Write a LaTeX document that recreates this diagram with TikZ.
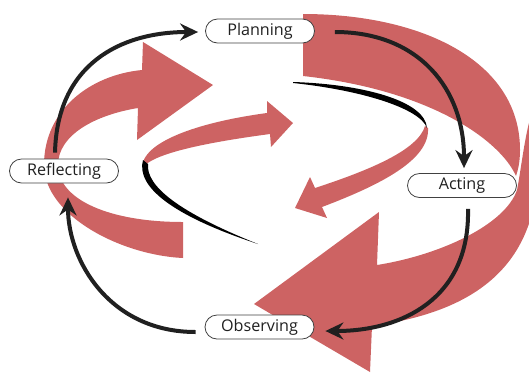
\documentclass[tikz,border=0pt]{standalone}
\usepackage{fontspec}
\setmainfont{Open Sans}
\usetikzlibrary{arrows.meta}
\definecolor{rib}{RGB}{205,99,99}
\definecolor{ink}{RGB}{32,32,32}
\begin{document}
\begin{tikzpicture}[x=1bp,y=-1bp,
  stage/.style={draw=ink!85, line width=0.8bp, fill=white, rounded corners=12bp,
    minimum width=109bp, minimum height=24bp, inner sep=0pt,
    font=\fontsize{16.2}{19}\selectfont, text=ink},
  flow/.style={draw=ink, line width=4bp, -{Stealth[length=18bp,width=17bp,inset=6bp]}},
  ribbon/.style={fill=rib, draw=none},
  shadow/.style={fill=black, draw=none}]
\useasboundingbox (0,0) rectangle (529,373);
\begin{scope}
\clip (0,0) rectangle (529,373);
% outer band, upper part
\fill[ribbon] (303,14) .. controls (420,14) and (520,60) .. (520,150)
  .. controls (520,162) and (518,170) .. (516,176)
  .. controls (500,140) and (430,90) .. (303,76) -- cycle;
% outer band, lower part with head
\fill[ribbon] (531,115) .. controls (524,140) and (521,170) .. (517,190)
  .. controls (505,225) and (440,255) .. (377,265) -- (379,212) -- (254,304)
  -- (370,372) -- (372,326) .. controls (450,315) and (520,285) .. (535,200)
  -- (560,200) -- (560,110) -- cycle;
% left band with head
\fill[ribbon] (183,222) -- (183,258) .. controls (120,255) and (44,215) .. (44,165)
  .. controls (44,110) and (90,75) .. (142,70) -- (143,42) -- (213,85) -- (137,140)
  -- (138,108) .. controls (95,115) and (58,135) .. (58,165)
  .. controls (58,200) and (110,222) .. (183,222) -- cycle;
% middle upper arrow
\fill[ribbon] (143,162) .. controls (150,140) and (200,122) .. (267,113) -- (267,101)
  -- (293,123) -- (271,147) -- (270,134) .. controls (210,142) and (160,152) .. (145,165) -- cycle;
% middle lower arrow
\fill[ribbon] (425,126) .. controls (418,150) and (370,170) .. (315,188) -- (310,177)
  -- (295,208) -- (327,218) -- (322,207) .. controls (380,185) and (430,160) .. (428,128) -- cycle;
% shadows
\fill[shadow] (143,160) .. controls (136,186) and (170,215) .. (258,244)
  .. controls (178,212) and (146,186) .. (148,164) -- cycle;
\fill[shadow] (293,82) .. controls (360,84) and (425,100) .. (427,128)
  .. controls (420,108) and (360,90) .. (293,83) -- cycle;
\end{scope}
% stages
\node[stage] (plan) at (260,31) {Planning};
\node[stage] (refl) at (64,171) {Reflecting};
\node[stage] (act) at (462,185.5) {Acting};
\node[stage] (obs) at (259.5,327) {Observing};
% connectors
\draw[flow] ([shift={(-9,-6)}]refl.north) .. controls +(2,-88) and +(-78,0) .. ([shift={(-7,1)}]plan.west);
\draw[flow] ([shift={(20,1)}]plan.east) .. controls +(85,0) and +(0,-78) .. ([shift={(2,-5)}]act.north);
\draw[flow] ([shift={(6,11)}]act.south) .. controls +(2,91) and +(75,0) .. ([shift={(11,4)}]obs.east);
\draw[flow] ([shift={(-9,5)}]obs.west) .. controls +(-86,0) and +(0,63) .. ([shift={(4,14)}]refl.south);
\end{tikzpicture}
\end{document}
